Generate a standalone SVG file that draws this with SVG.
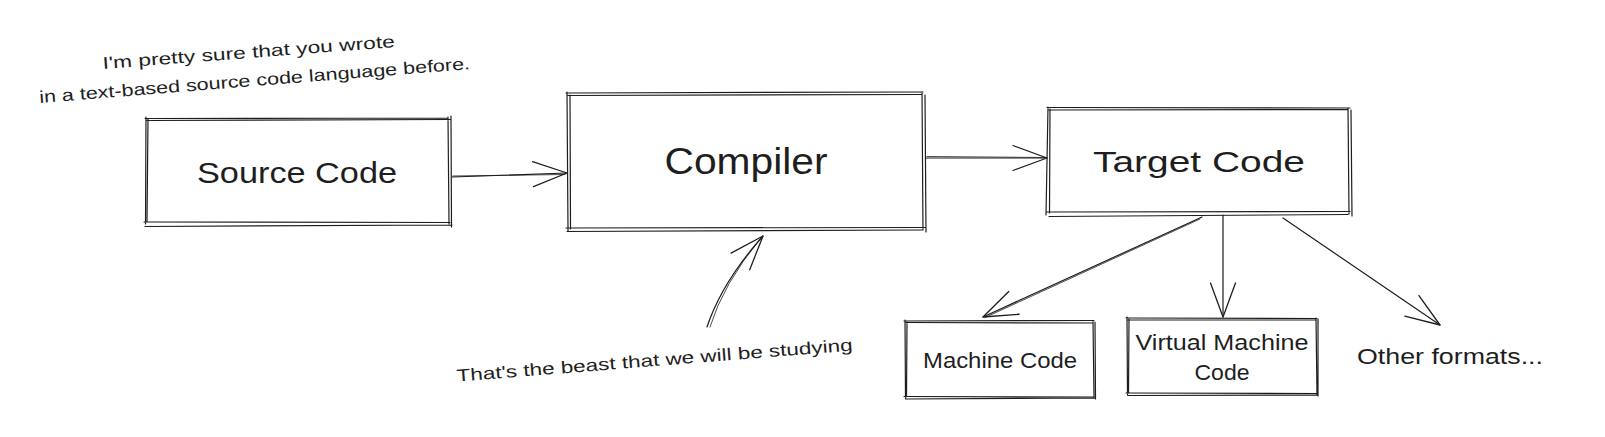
<svg xmlns="http://www.w3.org/2000/svg" width="1605" height="437" viewBox="0 0 1605 437">
<style>
.sk{fill:none;stroke:#1e1e1e;stroke-width:1.2;stroke-linecap:round;stroke-linejoin:round}
.sk2{fill:none;stroke:#1e1e1e;stroke-width:0.8;stroke-linecap:round;stroke-linejoin:round}
.t{font-family:"Liberation Sans",Arial,sans-serif;fill:#1e1e1e;text-anchor:middle}
.big{font-size:30px}
.huge{font-size:36px}
.mid{font-size:22px}
.note{font-size:17px}
</style>
<defs>
<marker id="ah" markerUnits="userSpaceOnUse" markerWidth="40" markerHeight="32" viewBox="-36 -16 38 32" refX="0" refY="0" orient="auto">
<path d="M-34,-12.5 L0,0 L-34,12.5" fill="none" stroke="#1e1e1e" stroke-width="1.3" stroke-linecap="round" stroke-linejoin="round"/>
</marker>
</defs>
<rect width="1605" height="437" fill="#ffffff"/>

<g id="note-source">
<text class="t note" x="249" y="58" textLength="293" lengthAdjust="spacingAndGlyphs" transform="rotate(-4.3 249 58)">I'm pretty sure that you wrote</text>
<text class="t note" x="255" y="86" textLength="432" lengthAdjust="spacingAndGlyphs" transform="rotate(-4.5 255 86)">in a text-based source code language before.</text>
</g>

<g id="source-code">
<path class="sk" d="M145,118.5 L448,118 M147,120.5 L450,119.5 M146,117 L145.5,224 M148,119 L147,221 M448,117 L449,224 M451,116 L451.5,227 M144,222 L450,222.5 M145,226.5 L452,225"/>
<text class="t big" x="297" y="183" textLength="200" lengthAdjust="spacingAndGlyphs">Source Code</text>
</g>

<g id="compiler">
<path class="sk" d="M566,93 L923,92 M568,95.5 L921,94.5 M567,92 L568,231 M570,95 L570.5,229 M922,92 L923,230 M925,95 L926,232 M566,228 L925,227.5 M567,231.5 L922,230"/>
<text class="t huge" x="746" y="174" textLength="163" lengthAdjust="spacingAndGlyphs">Compiler</text>
</g>

<g id="target-code">
<path class="sk" d="M1047,107.5 L1350,108 M1049,110 L1348,109.5 M1048,107 L1046,215 M1050,109 L1049.5,213 M1348,108 L1349,214 M1351,110 L1352,216 M1046,212 L1350,211.5 M1049,216.5 L1348,214.5"/>
<text class="t big" x="1199" y="172" textLength="212" lengthAdjust="spacingAndGlyphs">Target Code</text>
</g>

<g id="machine-code">
<path class="sk" d="M904,321 L1094,320.5 M906,322.5 L1093,323 M905,320 L905.5,399 M907,322 L906.5,397 M1093,321 L1094,398 M1095,322 L1095.5,399 M904,396.5 L1094,397 M906,399 L1095,398"/>
<text class="t mid" x="1000" y="368" textLength="154" lengthAdjust="spacingAndGlyphs">Machine Code</text>
</g>

<g id="vm-code">
<path class="sk" d="M1126,318 L1317,318.5 M1128,320 L1316,320 M1127,317 L1127.5,395 M1129,319 L1128.5,393 M1316,318 L1317,395 M1318,319 L1318,396 M1126,393 L1317,393.5 M1128,395.5 L1318,395"/>
<text class="t mid" x="1222" y="350" textLength="173" lengthAdjust="spacingAndGlyphs">Virtual Machine</text>
<text class="t mid" x="1222" y="380" textLength="55" lengthAdjust="spacingAndGlyphs">Code</text>
</g>

<g id="other-formats">
<text class="t mid" x="1450" y="364" textLength="186" lengthAdjust="spacingAndGlyphs">Other formats...</text>
</g>

<g id="note-compiler">
<text class="t note" x="655" y="366" textLength="397" lengthAdjust="spacingAndGlyphs" transform="rotate(-4.5 655 366)">That's the beast that we will be studying</text>
</g>

<g id="connectors">
<path class="sk" d="M452,177 L567,173" marker-end="url(#ah)"/>
<path class="sk2" d="M453,176 L565,174.5"/>
<path class="sk" d="M926,158 L1047,158" marker-end="url(#ah)"/>
<path class="sk2" d="M927,156.5 L1045,157.5"/>
<path class="sk" d="M707,327 Q722,282 763,236" marker-end="url(#ah)"/>
<path class="sk2" d="M710,327 Q723,284 761,238"/>
<path class="sk" d="M1202,217 L983,317" marker-end="url(#ah)"/>
<path class="sk2" d="M1200,219 L985,317.5"/>
<path class="sk" d="M1223,215 L1223,317" marker-end="url(#ah)"/>
<path class="sk" d="M1283,218 L1440,325" marker-end="url(#ah)"/>
</g>
</svg>
